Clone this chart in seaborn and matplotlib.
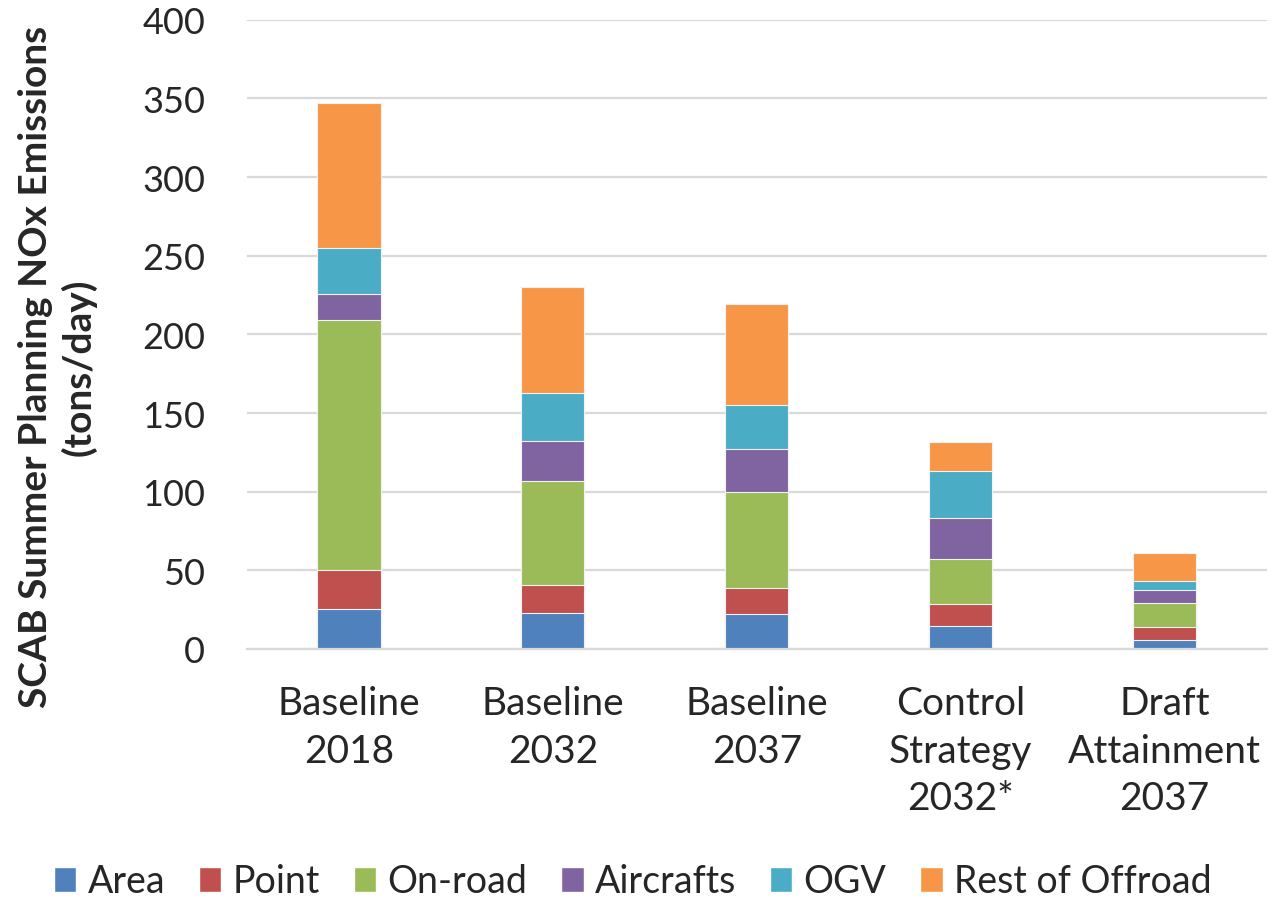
import pandas as pd
import numpy as np
import matplotlib.pyplot as plt
import seaborn as sns
from matplotlib.patches import Patch

# ================= Data ================= #
scenarios = ["Baseline\n2018", "Baseline\n2032", "Baseline\n2037",
             "Control\nStrategy\n2032*", "Draft\nAttainment\n2037"]
sources = ["Area", "Point", "On-road", "Aircrafts", "OGV", "Rest of Offroad"]
area = [25.4, 22.7, 22.2, 14.6, 5.5]
point = [24.5, 18.2, 16.8, 13.9, 8.2]
onroad = [159.0, 65.9, 60.6, 28.8, 15.7]
aircrafts = [17.0, 25.6, 27.5, 25.8, 8.0]
ogv = [29.3, 30.5, 28.0, 30.0, 5.5]
rest_offroad = [91.7, 67.1, 64.2, 18.4, 18.2]
colors = ["#4F81BD", "#C0504D", "#9BBB59", "#8064A2", "#4BACC6", "#F79646"]

# ================= Build table ================= #
df = pd.DataFrame({"scenario": scenarios, "Area": area, "Point": point,
                   "On-road": onroad, "Aircrafts": aircrafts, "OGV": ogv,
                   "Rest of Offroad": rest_offroad})
cum = df[sources].cumsum(axis=1)
cum["scenario"] = df["scenario"]

# ================= Plot ================= #
sns.set_style("white")
plt.rcParams['font.family'] = ['Lato', 'DejaVu Sans']
fig, ax = plt.subplots(figsize=(12.73, 9.04), dpi=100)
fig.subplots_adjust(left=0.194, right=0.995, top=0.977, bottom=0.281)

# draw stacked bars from the top layer down so lower layers overlay
for src, c in reversed(list(zip(sources, colors))):
    sns.barplot(data=cum, x="scenario", y=src, color=c, width=0.31,
                saturation=1, edgecolor="#f2f2f2", linewidth=0.8, ax=ax)

ax.set_ylim(0, 400)
ax.set_yticks(np.arange(0, 401, 50))
ax.yaxis.grid(True, color="#d9d9d9", linewidth=1.6)
ax.set_axisbelow(True)
for s in ["top", "right", "left"]:
    ax.spines[s].set_visible(False)
ax.spines["bottom"].set_color("#d9d9d9")
ax.spines["bottom"].set_linewidth(1.6)
ax.tick_params(axis="y", length=0, pad=30, labelsize=26)
ax.tick_params(axis="x", length=0, pad=26, labelsize=28)
for lab in ax.get_xticklabels():
    lab.set_linespacing(1.4)
ax.set_xlabel("")
ax.set_ylabel("SCAB Summer Planning NOx Emissions\n(tons/day)",
              fontsize=28, fontweight="bold", linespacing=1.25)
ax.yaxis.set_label_coords(-0.147, 0.45)

handles = [Patch(facecolor=c, label=s) for s, c in zip(sources, colors)]
fig.legend(handles=handles, loc="center", bbox_to_anchor=(0.497, 0.024),
           ncol=6, frameon=False, fontsize=27, handlelength=0.6,
           handleheight=0.65, handletextpad=0.3, columnspacing=0.9)

fig.savefig("out.png", dpi=100)
